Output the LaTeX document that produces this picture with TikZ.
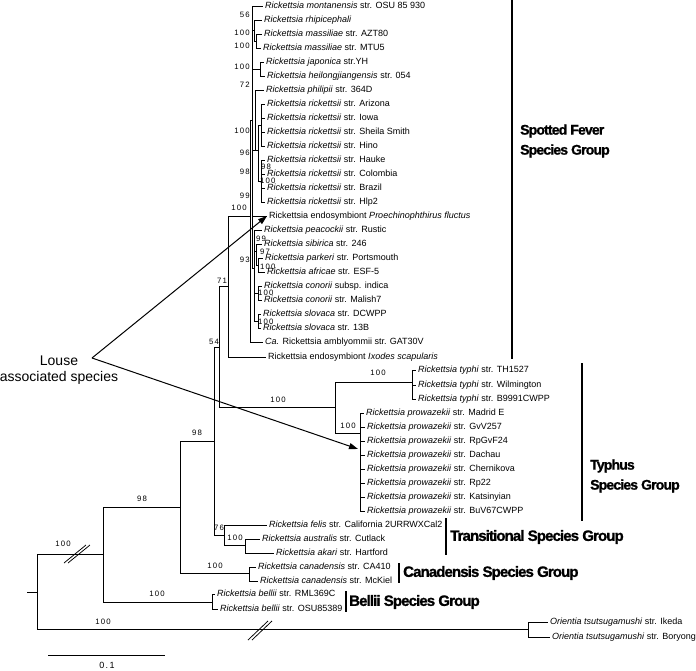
\documentclass[tikz,border=0pt]{standalone}
\usepackage{fontspec}
\setmainfont{Liberation Sans}
\newfontfamily\bootfont[LetterSpace=15]{Liberation Sans}
\newfontfamily\groupfont[LetterSpace=-6, BoldFeatures={FakeBold=1.2}]{Liberation Sans}
\usetikzlibrary{arrows.meta}
\tikzstyle{leaf} = [anchor=west, inner xsep=2pt, inner ysep=0pt,
    text height=6.5pt, text depth=1.8pt, font=\fontsize{9}{10}\selectfont]
\tikzstyle{boot} = [inner sep=0pt, font=\bootfont\fontsize{7.8}{9}\selectfont]
\tikzstyle{branch} = [line width=0.75pt]
\tikzstyle{grpbar} = [line width=2.8pt]
\tikzstyle{grpbig} = [anchor=west, inner sep=0pt, font=\groupfont\bfseries\fontsize{15}{17}\selectfont]
\tikzstyle{grpsmall} = [anchor=west, inner sep=0pt, align=left, font=\groupfont\bfseries\fontsize{14}{20}\selectfont]
\tikzstyle{pointer} = [line width=1pt, -{Triangle[length=9pt,width=6pt]}]

\begin{document}
\begin{tikzpicture}[x=1pt, y=-1pt]
\useasboundingbox (0,0) rectangle (696,671);

% leaves, spotted fever group
\node[leaf] (mont) at (263,6) {\textit{Rickettsia montanensis} str. OSU 85 930};
\node[leaf] (rhip) at (262,20) {\textit{Rickettsia rhipicephali}};
\node[leaf] (mass1) at (262,34) {\textit{Rickettsia massiliae} str. AZT80};
\node[leaf] (mass2) at (261,48) {\textit{Rickettsia massiliae} str. MTU5};
\node[leaf] (japo) at (264,62) {\textit{Rickettsia japonica} str.YH};
\node[leaf] (heil) at (265,76) {\textit{Rickettsia heilongjiangensis} str. 054};
\node[leaf] (phil) at (264,90) {\textit{Rickettsia philipii} str. 364D};
\node[leaf] (ariz) at (265,104) {\textit{Rickettsia rickettsii} str. Arizona};
\node[leaf] (iowa) at (265,118) {\textit{Rickettsia rickettsii} str. Iowa};
\node[leaf] (sheila) at (265,132) {\textit{Rickettsia rickettsii} str. Sheila Smith};
\node[leaf] (hino) at (265,146) {\textit{Rickettsia rickettsii} str. Hino};
\node[leaf] (hauke) at (265,160) {\textit{Rickettsia rickettsii} str. Hauke};
\node[leaf] (colom) at (265,174) {\textit{Rickettsia rickettsii} str. Colombia};
\node[leaf] (brazil) at (265,188) {\textit{Rickettsia rickettsii} str. Brazil};
\node[leaf] (hlp) at (265,202) {\textit{Rickettsia rickettsii} str. Hlp2};
\node[leaf] (proe) at (267,216) {Rickettsia endosymbiont \textit{Proechinophthirus fluctus}};
\node[leaf] (peac) at (262,230) {\textit{Rickettsia peacockii} str. Rustic};
\node[leaf] (sibi) at (262,244) {\textit{Rickettsia sibirica} str. 246};
\node[leaf] (park) at (263,258) {\textit{Rickettsia parkeri} str. Portsmouth};
\node[leaf] (afri) at (265,272) {\textit{Rickettsia africae} str. ESF-5};
\node[leaf] (indi) at (262,286) {\textit{Rickettsia conorii} subsp. indica};
\node[leaf] (mali) at (262,300) {\textit{Rickettsia conorii} str. Malish7};
\node[leaf] (slo1) at (261,314) {\textit{Rickettsia slovaca} str. DCWPP};
\node[leaf] (slo2) at (261,328) {\textit{Rickettsia slovaca} str. 13B};
\node[leaf] (amby) at (263,342) {\textit{Ca.} Rickettsia amblyommii str. GAT30V};
\node[leaf] (ixod) at (266,357) {Rickettsia endosymbiont \textit{Ixodes scapularis}};

% leaves, typhus group
\node[leaf] (ty1) at (416,370) {\textit{Rickettsia typhi} str. TH1527};
\node[leaf] (ty2) at (416,385) {\textit{Rickettsia typhi} str. Wilmington};
\node[leaf] (ty3) at (416,399) {\textit{Rickettsia typhi} str. B9991CWPP};
\node[leaf] (pw1) at (364,413) {\textit{Rickettsia prowazekii} str. Madrid E};
\node[leaf] (pw2) at (365,427) {\textit{Rickettsia prowazekii} str. GvV257};
\node[leaf] (pw3) at (365,441) {\textit{Rickettsia prowazekii} str. RpGvF24};
\node[leaf] (pw4) at (365,455) {\textit{Rickettsia prowazekii} str. Dachau};
\node[leaf] (pw5) at (365,469) {\textit{Rickettsia prowazekii} str. Chernikova};
\node[leaf] (pw6) at (365,483) {\textit{Rickettsia prowazekii} str. Rp22};
\node[leaf] (pw7) at (365,497) {\textit{Rickettsia prowazekii} str. Katsinyian};
\node[leaf] (pw8) at (365,511) {\textit{Rickettsia prowazekii} str. BuV67CWPP};

% leaves, the rest
\node[leaf] (felis) at (267,525) {\textit{Rickettsia felis} str. California 2URRWXCal2};
\node[leaf] (aust) at (260,539) {\textit{Rickettsia australis} str. Cutlack};
\node[leaf] (akari) at (274,553) {\textit{Rickettsia akari} str. Hartford};
\node[leaf] (can1) at (256,567) {\textit{Rickettsia canadensis} str. CA410};
\node[leaf] (can2) at (258,581) {\textit{Rickettsia canadensis} str. McKiel};
\node[leaf] (bel1) at (215,594) {\textit{Rickettsia bellii} str. RML369C};
\node[leaf] (bel2) at (218,609) {\textit{Rickettsia bellii} str. OSU85389};
\node[leaf] (ori1) at (548,622) {\textit{Orientia tsutsugamushi} str. Ikeda};
\node[leaf] (ori2) at (550,637) {\textit{Orientia tsutsugamushi} str. Boryong};

% internal nodes
\coordinate (rootStub) at (27,592);
\coordinate (root) at (37,592);
\coordinate (nA) at (103,554);
\coordinate (nO) at (528,629);
\coordinate (nB) at (180,507);
\coordinate (nBel) at (212,602);
\coordinate (nC) at (214,441);
\coordinate (nCan) at (249,573);
\coordinate (nD) at (219,347);
\coordinate (nTr) at (224,535);
\coordinate (nAA) at (245,545);
\coordinate (nE) at (228,286);
\coordinate (nT) at (335,407);
\coordinate (nTy) at (412,382);
\coordinate (nPw) at (360,433);
\coordinate (nF) at (250,216);
\coordinate (nG) at (252,120);
\coordinate (nM1) at (254,30);
\coordinate (nM2) at (256,41);
\coordinate (nJ) at (260,69);
\coordinate (nK) at (255,150);
\coordinate (nR) at (258,150);
\coordinate (nR1) at (261,125);
\coordinate (nR2) at (261,181);
\coordinate (nN) at (254,268);
\coordinate (nS99) at (256,251);
\coordinate (nS97) at (258,265);
\coordinate (nCon) at (258,293);
\coordinate (nSlo) at (258,321);

% branches
\draw[branch] (rootStub) -- (root);
\draw[branch] (root) |- (nA);
\draw[branch] (root) |- (nO);
\draw[branch] (nO) |- (ori1.west);
\draw[branch] (nO) |- (ori2.west);
\draw[branch] (nA) |- (nB);
\draw[branch] (nA) |- (nBel);
\draw[branch] (nBel) |- (bel1.west);
\draw[branch] (nBel) |- (bel2.west);
\draw[branch] (nB) |- (nC);
\draw[branch] (nB) |- (nCan);
\draw[branch] (nCan) |- (can1.west);
\draw[branch] (nCan) |- (can2.west);
\draw[branch] (nC) |- (nD);
\draw[branch] (nC) |- (nTr);
\draw[branch] (nTr) |- (felis.west);
\draw[branch] (nTr) |- (nAA);
\draw[branch] (nAA) |- (aust.west);
\draw[branch] (nAA) |- (akari.west);
\draw[branch] (nD) |- (nE);
\draw[branch] (nD) |- (nT);
\draw[branch] (nT) |- (nTy);
\draw[branch] (nT) |- (nPw);
\draw[branch] (nTy) |- (ty1.west);
\draw[branch] (nTy) |- (ty2.west);
\draw[branch] (nTy) |- (ty3.west);
\draw[branch] (nPw) |- (pw1.west);
\draw[branch] (nPw) |- (pw2.west);
\draw[branch] (nPw) |- (pw3.west);
\draw[branch] (nPw) |- (pw4.west);
\draw[branch] (nPw) |- (pw5.west);
\draw[branch] (nPw) |- (pw6.west);
\draw[branch] (nPw) |- (pw7.west);
\draw[branch] (nPw) |- (pw8.west);
\draw[branch] (nE) |- (nF);
\draw[branch] (nE) |- (ixod.west);
\draw[branch] (nF) |- (nG);
\draw[branch] (nF) |- (amby.west);
\draw[branch] (nG) |- (mont.west);
\draw[branch] (nG) |- (nM1);
\draw[branch] (nM1) |- (rhip.west);
\draw[branch] (nM1) |- (nM2);
\draw[branch] (nM2) |- (mass1.west);
\draw[branch] (nM2) |- (mass2.west);
\draw[branch] (nG) |- (nJ);
\draw[branch] (nJ) |- (japo.west);
\draw[branch] (nJ) |- (heil.west);
\draw[branch] (nG) |- (nK);
\draw[branch] (nK) |- (phil.west);
\draw[branch] (nK) -- (nR);
\draw[branch] (nR) |- (nR1);
\draw[branch] (nR) |- (nR2);
\draw[branch] (nR1) |- (ariz.west);
\draw[branch] (nR1) |- (iowa.west);
\draw[branch] (nR1) |- (sheila.west);
\draw[branch] (nR1) |- (hino.west);
\draw[branch] (nR2) |- (hauke.west);
\draw[branch] (nR2) |- (colom.west);
\draw[branch] (nR2) |- (brazil.west);
\draw[branch] (nR2) |- (hlp.west);
\draw[branch] (nG) |- (proe.west);
\draw[branch] (nG) |- (nN);
\draw[branch] (nN) |- (peac.west);
\draw[branch] (nN) |- (nS99);
\draw[branch] (nS99) |- (sibi.west);
\draw[branch] (nS99) |- (nS97);
\draw[branch] (nS97) |- (park.west);
\draw[branch] (nS97) |- (afri.west);
\draw[branch] (nN) |- (nCon);
\draw[branch] (nCon) |- (indi.west);
\draw[branch] (nCon) |- (mali.west);
\draw[branch] (nN) |- (nSlo);
\draw[branch] (nSlo) |- (slo1.west);
\draw[branch] (nSlo) |- (slo2.west);

% breaks on the long branches
\draw[branch] (64,563) -- (86,545);
\draw[branch] (68,563) -- (90,545);
\draw[branch] (248,640) -- (268,621);
\draw[branch] (252,640) -- (272,621);

% bootstrap values
\node[boot, anchor=east] (b56) at (250,15) {56};
\node[boot, anchor=east] (b100a) at (250,33) {100};
\node[boot, anchor=east] (b100b) at (250,46) {100};
\node[boot, anchor=east] (b100c) at (250,67) {100};
\node[boot, anchor=east] (b72) at (250,85) {72};
\node[boot, anchor=east] (b100d) at (250,131) {100};
\node[boot, anchor=east] (b96) at (250,153) {96};
\node[boot, anchor=east] (b98a) at (250,172) {98};
\node[boot, anchor=east] (b99a) at (250,196) {99};
\node[boot, anchor=east] (b100e) at (247,208) {100};
\node[boot, anchor=west] (b98b) at (261,167) {98};
\node[boot, anchor=west] (b100f) at (260,181) {100};
\node[boot, anchor=west] (b99b) at (256,239) {99};
\node[boot, anchor=west] (b97) at (260,252) {97};
\node[boot, anchor=east] (b93) at (250,260) {93};
\node[boot, anchor=west] (b100g) at (260,267) {100};
\node[boot, anchor=west] (b100h) at (258,293) {100};
\node[boot, anchor=west] (b100i) at (258,322) {100};
\node[boot] (b71) at (222,281) {71};
\node[boot] (b54) at (214,342) {54};
\node[boot] (b100j) at (278,400) {100};
\node[boot] (b100k) at (378,373) {100};
\node[boot] (b100l) at (348,426) {100};
\node[boot] (b98c) at (197,433) {98};
\node[boot] (b98d) at (142,499) {98};
\node[boot] (b76) at (219,528) {76};
\node[boot] (b100m) at (235,538) {100};
\node[boot] (b100n) at (215,566) {100};
\node[boot] (b100o) at (157,594) {100};
\node[boot] (b100p) at (63,544) {100};
\node[boot] (b100q) at (103,622) {100};

% group bars and names
\coordinate (sfgTop) at (512,0);
\coordinate (sfgBot) at (512,359);
\draw[grpbar] (sfgTop) -- (sfgBot);
\node[grpsmall] (sfgLab) at (520,141) {Spotted Fever\\Species Group};
\coordinate (tgTop) at (582,363);
\coordinate (tgBot) at (582,521);
\draw[grpbar] (tgTop) -- (tgBot);
\node[grpsmall] (tgLab) at (590,476) {Typhus\\Species Group};
\coordinate (trTop) at (446,518);
\coordinate (trBot) at (446,555);
\draw[grpbar] (trTop) -- (trBot);
\node[grpbig] (trLab) at (450,537) {Transitional Species Group};
\coordinate (cgTop) at (399,563);
\coordinate (cgBot) at (399,583);
\draw[grpbar] (cgTop) -- (cgBot);
\node[grpbig] (cgLab) at (403,573) {Canadensis Species Group};
\coordinate (bgTop) at (346,591);
\coordinate (bgBot) at (346,612);
\draw[grpbar] (bgTop) -- (bgBot);
\node[grpbig] (bgLab) at (349,602) {Bellii Species Group};

% louse pointers
\node[align=center, inner sep=0pt, font=\fontsize{14}{16}\selectfont] (louse) at (59,370) {Louse\\associated species};
\coordinate (lousePt) at (92,358);
\coordinate (prowTip) at (358,449);
\draw[pointer] (lousePt) -- (proe.west);
\draw[pointer] (lousePt) -- (prowTip);

% scale bar
\coordinate (sbL) at (48,655);
\coordinate (sbR) at (165,655);
\draw[branch] (sbL) -- (sbR);
\node[boot, font=\bootfont\fontsize{9}{10}\selectfont] (sbLab) at (107,665) {0.1};

\end{tikzpicture}
\end{document}
